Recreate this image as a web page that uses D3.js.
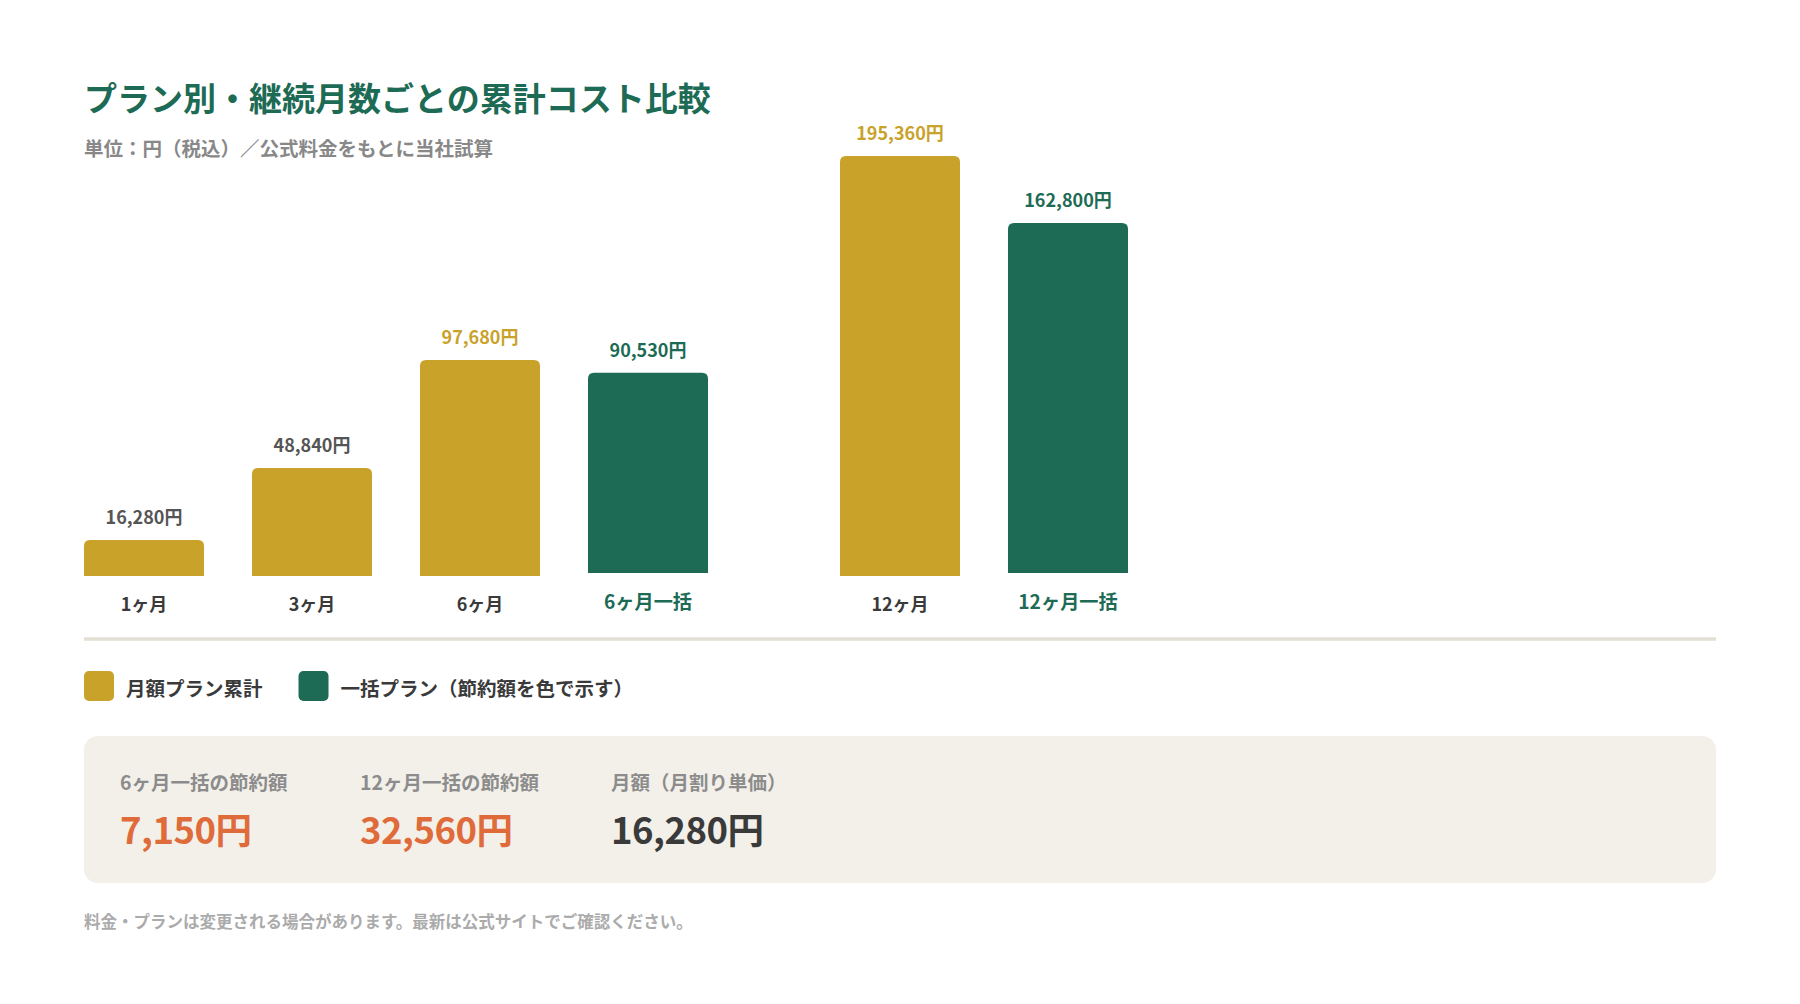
<!DOCTYPE html>
<html lang="ja">
<head>
<meta charset="utf-8">
<script src="https://cdn.jsdelivr.net/npm/d3@7"></script>
<style>
  html, body { margin: 0; padding: 0; background: #ffffff; }
  svg { display: block; font-family: "Noto Sans CJK JP", "Noto Sans", sans-serif; font-weight: 700; }
</style>
</head>
<body>
<div id="chart"></div>
<script>
// chart values
const categories = ["1ヶ月", "3ヶ月", "6ヶ月", "6ヶ月一括", "12ヶ月", "12ヶ月一括"];
const costs = [16280, 48840, 97680, 90530, 195360, 162800];
const planTypes = ["monthly", "monthly", "monthly", "bulk", "monthly", "bulk"];
const groups = [0, 0, 0, 0, 1, 1];
// monthly totals that have a bulk plan to compare with
const comparedWithBulk = ["6ヶ月", "12ヶ月"];

const legendLabels = ["月額プラン累計", "一括プラン（節約額を色で示す）"];
const summaryLabels = ["6ヶ月一括の節約額", "12ヶ月一括の節約額", "月額（月割り単価）"];
const summaryValues = [7150, 32560, 16280];
const summaryIsSaving = [true, true, false];

const titleText = "プラン別・継続月数ごとの累計コスト比較";
const subtitleText = "単位：円（税込）／公式料金をもとに当社試算";
const noteText = "料金・プランは変更される場合があります。最新は公式サイトでご確認ください。";

// colours
const GOLD = "#c9a22a", GREEN = "#1d6b55", ORANGE = "#df6b3a";
const DARK = "#3a3a3a", GREY = "#888888";

const W = 1800, H = 1004;
const left = 84, right = 1716;
const baseY = 576;
// the second group's panel is a little shorter than the first
const groupHeights = [432, 420];
const groupGap = 84, bulkLift = 3;

const yen = v => d3.format(",")(v) + "円";

const svg = d3.select("#chart").append("svg")
    .attr("width", W).attr("height", H);

// title + subtitle
svg.append("text")
    .attr("x", left).attr("y", 97)
    .attr("dominant-baseline", "central")
    .attr("font-size", 33).attr("fill", GREEN)
    .text(titleText);
svg.append("text")
    .attr("x", left).attr("y", 147)
    .attr("dominant-baseline", "central")
    .attr("font-size", 19.5).attr("fill", GREY)
    .text(subtitleText);

// scales
const x = d3.scaleBand()
    .domain(categories)
    .range([left, left + 6 * 168 - 48])
    .paddingInner(48 / 168)
    .paddingOuter(0);
const yScales = groupHeights.map(h => d3.scaleLinear()
    .domain([0, d3.max(costs)])
    .range([baseY, baseY - h]));

const data = categories.map((c, i) => ({
    cat: c, value: costs[i], type: planTypes[i], group: groups[i]
}));

const barX = d => x(d.cat) + d.group * groupGap;
const lift = d => d.type === "bulk" ? bulkLift : 0;
const barTop = d => yScales[d.group](d.value) - lift(d);

// rounded-top bar path
function topRounded(x0, y0, w, h, r) {
    r = Math.min(r, h, w / 2);
    return `M${x0},${y0 + h}V${y0 + r}Q${x0},${y0} ${x0 + r},${y0}` +
           `H${x0 + w - r}Q${x0 + w},${y0} ${x0 + w},${y0 + r}V${y0 + h}Z`;
}

const bars = svg.append("g").selectAll("g")
    .data(data)
    .join("g");

bars.append("path")
    .attr("fill", d => d.type === "bulk" ? GREEN : GOLD)
    .attr("d", d => topRounded(barX(d), barTop(d), x.bandwidth(),
                               baseY - yScales[d.group](d.value), 6));

// value labels
bars.append("text")
    .attr("x", d => barX(d) + x.bandwidth() / 2)
    .attr("y", d => barTop(d) - 24)
    .attr("text-anchor", "middle")
    .attr("dominant-baseline", "central")
    .attr("font-size", 18)
    .attr("fill", d => d.type === "bulk" ? GREEN
                     : comparedWithBulk.includes(d.cat) ? GOLD : "#555555")
    .text(d => yen(d.value));

// category labels
bars.append("text")
    .attr("x", d => barX(d) + x.bandwidth() / 2)
    .attr("y", d => d.type === "bulk" ? 601 : 602.5)
    .attr("text-anchor", "middle")
    .attr("dominant-baseline", "central")
    .attr("font-size", d => d.type === "bulk" ? 19.2 : 18)
    .attr("fill", d => d.type === "bulk" ? GREEN : DARK)
    .text(d => d.cat);

// divider
svg.append("line")
    .attr("x1", left).attr("x2", right)
    .attr("y1", 639).attr("y2", 639)
    .attr("stroke", "#e3dfd5").attr("stroke-width", 3.5);

// legend
const legend = svg.append("g");
let lx = left;
legendLabels.forEach((lab, i) => {
    legend.append("rect")
        .attr("x", lx).attr("y", 671)
        .attr("width", 30).attr("height", 30).attr("rx", 5)
        .attr("fill", i === 0 ? GOLD : GREEN);
    const t = legend.append("text")
        .attr("x", lx + 42).attr("y", 687)
        .attr("dominant-baseline", "central")
        .attr("font-size", 19.5).attr("fill", DARK)
        .text(lab);
    lx = lx + 42 + t.node().getComputedTextLength() + 36;
});

// summary box
svg.append("rect")
    .attr("x", left).attr("y", 736)
    .attr("width", right - left).attr("height", 147)
    .attr("rx", 14).attr("fill", "#f3f0ea");

const colX = [120, 360, 611];
summaryLabels.forEach((lab, i) => {
    svg.append("text")
        .attr("x", colX[i]).attr("y", 781)
        .attr("dominant-baseline", "central")
        .attr("font-size", 19.5).attr("fill", "#8c8c8c")
        .text(lab);
    svg.append("text")
        .attr("x", colX[i]).attr("y", 828)
        .attr("dominant-baseline", "central")
        .attr("font-size", 36.5).attr("letter-spacing", "-0.5px")
        .attr("fill", summaryIsSaving[i] ? ORANGE : DARK)
        .text(yen(summaryValues[i]));
});

// footnote
svg.append("text")
    .attr("x", left).attr("y", 921)
    .attr("dominant-baseline", "central")
    .attr("font-size", 16.5).attr("fill", "#ababab")
    .text(noteText);
</script>
</body>
</html>
